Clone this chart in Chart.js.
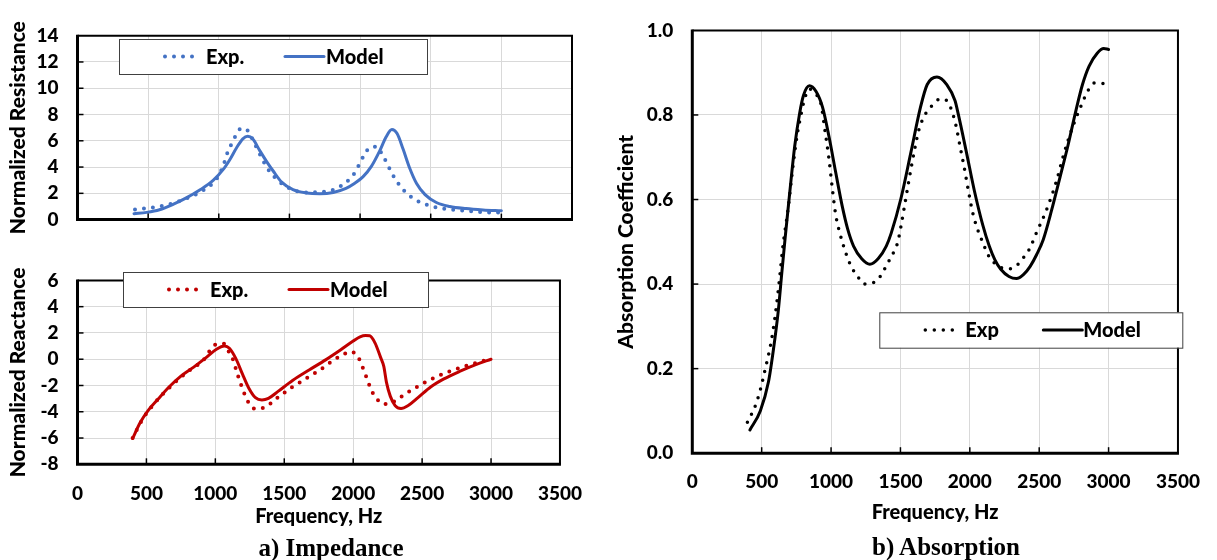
<!DOCTYPE html>
<html><head><meta charset="utf-8">
<script src="https://cdn.jsdelivr.net/npm/chart.js@4.4.0/dist/chart.umd.min.js"></script>
<style>
html,body{margin:0;padding:0;background:#fff;width:1217px;height:560px;overflow:hidden;}
canvas{position:absolute;}
.cap{position:absolute;font-family:"Liberation Serif","Times New Roman",serif;font-weight:bold;font-size:25px;color:#000;white-space:nowrap;transform:translate(-50%,-50%);}
</style></head><body>
<canvas id="cRes" width="600" height="250" style="left:0;top:0"></canvas>
<canvas id="cRea" width="600" height="310" style="left:0;top:250px"></canvas>
<canvas id="cAbs" width="617" height="560" style="left:600px;top:0"></canvas>
<div class="cap" style="left:331px;top:548px">a) Impedance</div>
<div class="cap" style="left:946px;top:547px">b) Absorption</div>
<script>
// ---------- data ----------
const xTicks = [0, 500, 1000, 1500, 2000, 2500, 3000, 3500];

const resModelFreq = [400,490,580,680,770,865,960,1030,1080,1125,1170,1205,1240,1290,1340,1385,1445,1525,1620,1715,1810,1900,1960,2020,2080,2140,2185,2225,2262,2305,2350,2400,2460,2540,2635,2750,2870,3000];
const resModelVal  = [0.45,0.55,0.75,1.18,1.65,2.25,2.98,3.8,4.6,5.45,6.15,6.35,6.15,5.25,4.4,3.7,2.85,2.28,2.03,1.97,2.07,2.38,2.75,3.25,4.05,5.25,6.3,6.85,6.55,5.35,3.95,2.75,1.9,1.3,1.0,0.84,0.74,0.67];
const resExpFreq = [407,473,539,602,666,725,784,843,902,949,989,1020,1043,1062,1090,1119,1161,1208,1250,1290,1326,1361,1408,1455,1510,1569,1632,1699,1762,1828,1880,1927,1970,1998,2028,2069,2120,2156,2191,2217,2250,2288,2332,2387,2441,2500,2564,2627,2693,2760,2823,2894,2953,3000];
const resExpVal  = [0.76,0.84,0.93,1.05,1.21,1.43,1.67,1.95,2.31,2.69,3.17,3.81,4.46,5.12,5.76,6.38,6.96,6.74,5.85,5.0,4.24,3.64,3.1,2.67,2.34,2.12,2.07,2.1,2.14,2.34,2.67,3.1,3.69,4.29,4.89,5.48,5.55,4.96,4.29,3.69,3.07,2.5,1.98,1.55,1.24,1.05,0.86,0.79,0.71,0.67,0.6,0.55,0.55,0.52];

const reaModelFreq = [400,454,513,583,666,748,843,937,1008,1066,1102,1149,1197,1243,1291,1338,1385,1455,1560,1680,1800,1910,2000,2050,2090,2120,2158,2198,2222,2241,2269,2304,2347,2399,2470,2564,2658,2776,2894,3000];
const reaModelVal  = [-6.03,-4.84,-3.89,-3.05,-2.1,-1.31,-0.6,0.16,0.76,1.0,0.83,0.04,-1.14,-2.21,-2.93,-3.1,-2.98,-2.45,-1.62,-0.82,-0.05,0.72,1.38,1.7,1.8,1.78,1.24,0.16,-0.55,-1.74,-2.81,-3.53,-3.76,-3.53,-2.93,-2.1,-1.5,-0.91,-0.39,0.0];
const reaExpFreq = [400,470,540,610,666,740,819,913,956,1003,1062,1097,1130,1149,1168,1190,1213,1243,1286,1345,1402,1451,1503,1554,1609,1663,1715,1769,1821,1875,1927,1984,2038,2064,2088,2111,2134,2170,2217,2274,2332,2382,2438,2493,2547,2604,2663,2721,2783,2842,2905,2965,3000];
const reaExpVal  = [-6.0,-4.6,-3.6,-2.75,-2.17,-1.45,-0.79,-0.07,0.59,1.12,1.17,0.59,-0.07,-0.74,-1.38,-2.05,-2.69,-3.34,-3.76,-3.72,-3.36,-2.93,-2.53,-2.14,-1.79,-1.43,-1.1,-0.74,-0.34,0.04,0.35,0.57,0.11,-0.5,-1.14,-1.81,-2.41,-3.0,-3.41,-3.34,-2.98,-2.62,-2.26,-1.93,-1.62,-1.34,-1.07,-0.84,-0.62,-0.43,-0.24,-0.07,0.0];

const absModelFreq = [415,490,549,585,620,644,670,703,738,773,801,844,891,938,985,1033,1080,1120,1162,1221,1280,1339,1398,1433,1504,1575,1645,1693,1763,1834,1893,1916,1976,2034,2093,2140,2180,2223,2282,2336,2388,2435,2482,2529,2588,2647,2706,2765,2812,2859,2918,2965,3000];
const absModelVal  = [0.055,0.10,0.169,0.246,0.338,0.423,0.512,0.619,0.726,0.803,0.846,0.869,0.856,0.819,0.749,0.665,0.585,0.53,0.49,0.46,0.447,0.46,0.49,0.52,0.603,0.711,0.819,0.872,0.890,0.872,0.834,0.803,0.711,0.619,0.54,0.49,0.458,0.435,0.418,0.413,0.423,0.442,0.47,0.505,0.573,0.649,0.726,0.811,0.872,0.915,0.946,0.957,0.955];
const absExpFreq = [397,455,495,526,556,580,608,632,651,691,726,754,785,809,844,891,927,957,985,1009,1033,1068,1100,1127,1162,1198,1240,1304,1350,1386,1421,1452,1481,1527,1563,1598,1633,1681,1740,1787,1840,1870,1900,1930,1960,1990,2020,2050,2085,2135,2176,2234,2294,2348,2388,2430,2482,2541,2588,2631,2666,2706,2746,2800,2854,2902,2965];
const absExpVal  = [0.073,0.113,0.156,0.20,0.243,0.286,0.353,0.423,0.484,0.58,0.68,0.749,0.803,0.838,0.861,0.849,0.826,0.761,0.696,0.626,0.565,0.515,0.48,0.455,0.432,0.415,0.40,0.403,0.416,0.436,0.457,0.476,0.50,0.58,0.649,0.711,0.765,0.803,0.826,0.838,0.832,0.81,0.775,0.725,0.675,0.62,0.57,0.535,0.505,0.467,0.450,0.438,0.436,0.447,0.463,0.483,0.523,0.566,0.607,0.651,0.694,0.738,0.776,0.820,0.859,0.876,0.874];

// ---------- helpers ----------
const FONT = 'Lato, "Open Sans", sans-serif';
const W = 900;
const pts = (f, v) => f.map((x, i) => ({x, y: v[i]}));
const GRID = '#d9d9d9';

const framePlugin = {
  id: 'frame',
  afterDraw(chart, args, o) {
    const ctx = chart.ctx, a = chart.chartArea;
    ctx.save();
    ctx.strokeStyle = '#000';
    ctx.lineWidth = 1.5;
    const xs = chart.scales.x, ys = chart.scales.y;
    xs.ticks.forEach(t => {
      const px = xs.getPixelForValue(t.value);
      if (px > a.left + 2 && px < a.right - 2) { ctx.beginPath(); ctx.moveTo(px, a.bottom); ctx.lineTo(px, a.bottom - 6); ctx.stroke(); }
    });
    ys.ticks.forEach(t => {
      const py = ys.getPixelForValue(t.value);
      if (py > a.top + 2 && py < a.bottom - 2) { ctx.beginPath(); ctx.moveTo(a.left, py); ctx.lineTo(a.left + 6, py); ctx.stroke(); }
    });
    ctx.lineWidth = 2;
    ctx.beginPath(); ctx.moveTo(a.left, a.top); ctx.lineTo(a.right, a.top); ctx.lineTo(a.right, a.bottom); ctx.stroke();
    ctx.lineWidth = 3;
    ctx.beginPath(); ctx.moveTo(a.left, a.top - 1); ctx.lineTo(a.left, a.bottom); ctx.lineTo(a.right + 1, a.bottom); ctx.stroke();

    const L = o.legend;
    if (L) {
      ctx.fillStyle = '#fff';
      ctx.fillRect(L.x, L.y, L.w, L.h);
      ctx.lineWidth = 1;
      ctx.strokeStyle = '#404040';
      ctx.strokeRect(L.x + 0.5, L.y + 0.5, L.w, L.h);
      const cy = L.y + L.h / 2;
      L.items.forEach(it => {
        const ds = chart.data.datasets[it.ds];
        ctx.save();
        ctx.strokeStyle = ds.borderColor;
        ctx.lineWidth = ds.borderWidth;
        ctx.lineCap = ds.borderCapStyle || 'butt';
        ctx.setLineDash(ds.borderDash || []);
        ctx.beginPath(); ctx.moveTo(L.x + it.l0, cy); ctx.lineTo(L.x + it.l1, cy); ctx.stroke();
        ctx.restore();
        ctx.fillStyle = '#000';
        ctx.font = W + ' ' + L.size + 'px ' + FONT;
        ctx.textAlign = 'left';
        ctx.textBaseline = 'middle';
        ctx.fillText(ds.label, L.x + it.t, cy + 1);
      });
    }
    ctx.restore();
  }
};

function xScale(showTicks, h, pad, titlePad) {
  return {
    type: 'linear', min: 0, max: 3500,
    afterBuildTicks: s => { s.ticks = xTicks.map(v => ({value: v})); },
    afterFit: s => { s.height = h; },
    grid: {color: GRID, lineWidth: 1, drawTicks: false},
    border: {display: false},
    ticks: {display: showTicks, padding: pad, color: '#000', font: {family: FONT, size: 19, weight: W}, maxRotation: 0, autoSkip: false, callback: v => String(v)},
    title: {display: showTicks, text: 'Frequency, Hz', color: '#000', font: {family: FONT, size: 20, weight: W}, padding: {top: 0, bottom: titlePad}}
  };
}
function yScale(min, max, step, w, title, titlePad, fmt) {
  return {
    type: 'linear', min, max,
    ticks: {stepSize: step, padding: 19, color: '#000', font: {family: FONT, size: 19, weight: W}, callback: fmt || (v => String(v))},
    afterFit: s => { s.width = w; },
    grid: {color: GRID, lineWidth: 1, drawTicks: false},
    border: {display: false},
    title: {display: true, text: title, color: '#000', font: {family: FONT, size: 21, weight: W}, padding: {top: titlePad, bottom: 0}}
  };
}
function dotted(label, f, v, color, w, gap) {
  return {label, data: pts(f, v), borderColor: color, backgroundColor: color, borderWidth: w, borderDash: [0, gap], borderCapStyle: 'round', pointRadius: 0, cubicInterpolationMode: 'monotone', fill: false};
}
function solid(label, f, v, color, w) {
  return {label, data: pts(f, v), borderColor: color, backgroundColor: color, borderWidth: w, borderCapStyle: 'round', borderJoinStyle: 'round', pointRadius: 0, cubicInterpolationMode: 'monotone', fill: false};
}
const common = {responsive: false, animation: false, devicePixelRatio: 1, events: []};
const noLegend = {legend: {display: false}, tooltip: {enabled: false}};

const BLUE = '#4472c4', RED = '#c00000', BLACK = '#000';

new Chart(document.getElementById('cRes'), {
  type: 'line',
  data: {datasets: [dotted('Exp.', resExpFreq, resExpVal, BLUE, 4, 9), solid('Model', resModelFreq, resModelVal, BLUE, 3)]},
  options: Object.assign({}, common, {
    layout: {padding: {left: 0, top: 35.7, right: 28, bottom: 18.3}},
    scales: {x: xScale(false, 0, 0, 0), y: yScale(0, 14, 2, 77.5, 'Normalized Resistance', 5.5)},
    plugins: Object.assign({}, noLegend, {frame: {legend: {x: 119, y: 39, w: 308, h: 35, size: 20, items: [{ds: 0, l0: 46, l1: 82, t: 87}, {ds: 1, l0: 166, l1: 205, t: 207}]}}})
  }),
  plugins: [framePlugin]
});

new Chart(document.getElementById('cRea'), {
  type: 'line',
  data: {datasets: [dotted('Exp.', reaExpFreq, reaExpVal, RED, 4, 9), solid('Model', reaModelFreq, reaModelVal, RED, 3)]},
  options: Object.assign({}, common, {
    layout: {padding: {left: 0, top: 18.3, right: 28, bottom: 25.7}},
    scales: {x: xScale(true, 70, 18, 5.3), y: yScale(-8, 6, 2, 77.5, 'Normalized Reactance', 5.5)},
    plugins: Object.assign({}, noLegend, {frame: {legend: {x: 123, y: 22, w: 305, h: 35, size: 20, items: [{ds: 0, l0: 46, l1: 82, t: 87}, {ds: 1, l0: 166, l1: 205, t: 207}]}}})
  }),
  plugins: [framePlugin]
});

new Chart(document.getElementById('cAbs'), {
  type: 'line',
  data: {datasets: [dotted('Exp', absExpFreq, absExpVal, BLACK, 3.5, 9), solid('Model', absModelFreq, absModelVal, BLACK, 3)]},
  options: Object.assign({}, common, {
    layout: {padding: {left: 0, top: 19.7, right: 29.7, bottom: 31.8}},
    scales: {x: xScale(true, 75, 17, 3.7), y: yScale(0, 1, 0.2, 92.3, 'Absorption Coefficient', 14, v => v.toFixed(1))},
    plugins: Object.assign({}, noLegend, {frame: {legend: {x: 279.3, y: 312.3, w: 303, h: 35.4, size: 20, items: [{ds: 0, l0: 46, l1: 82, t: 86}, {ds: 1, l0: 164, l1: 203, t: 204}]}}})
  }),
  plugins: [framePlugin]
});
</script>
</body></html>
